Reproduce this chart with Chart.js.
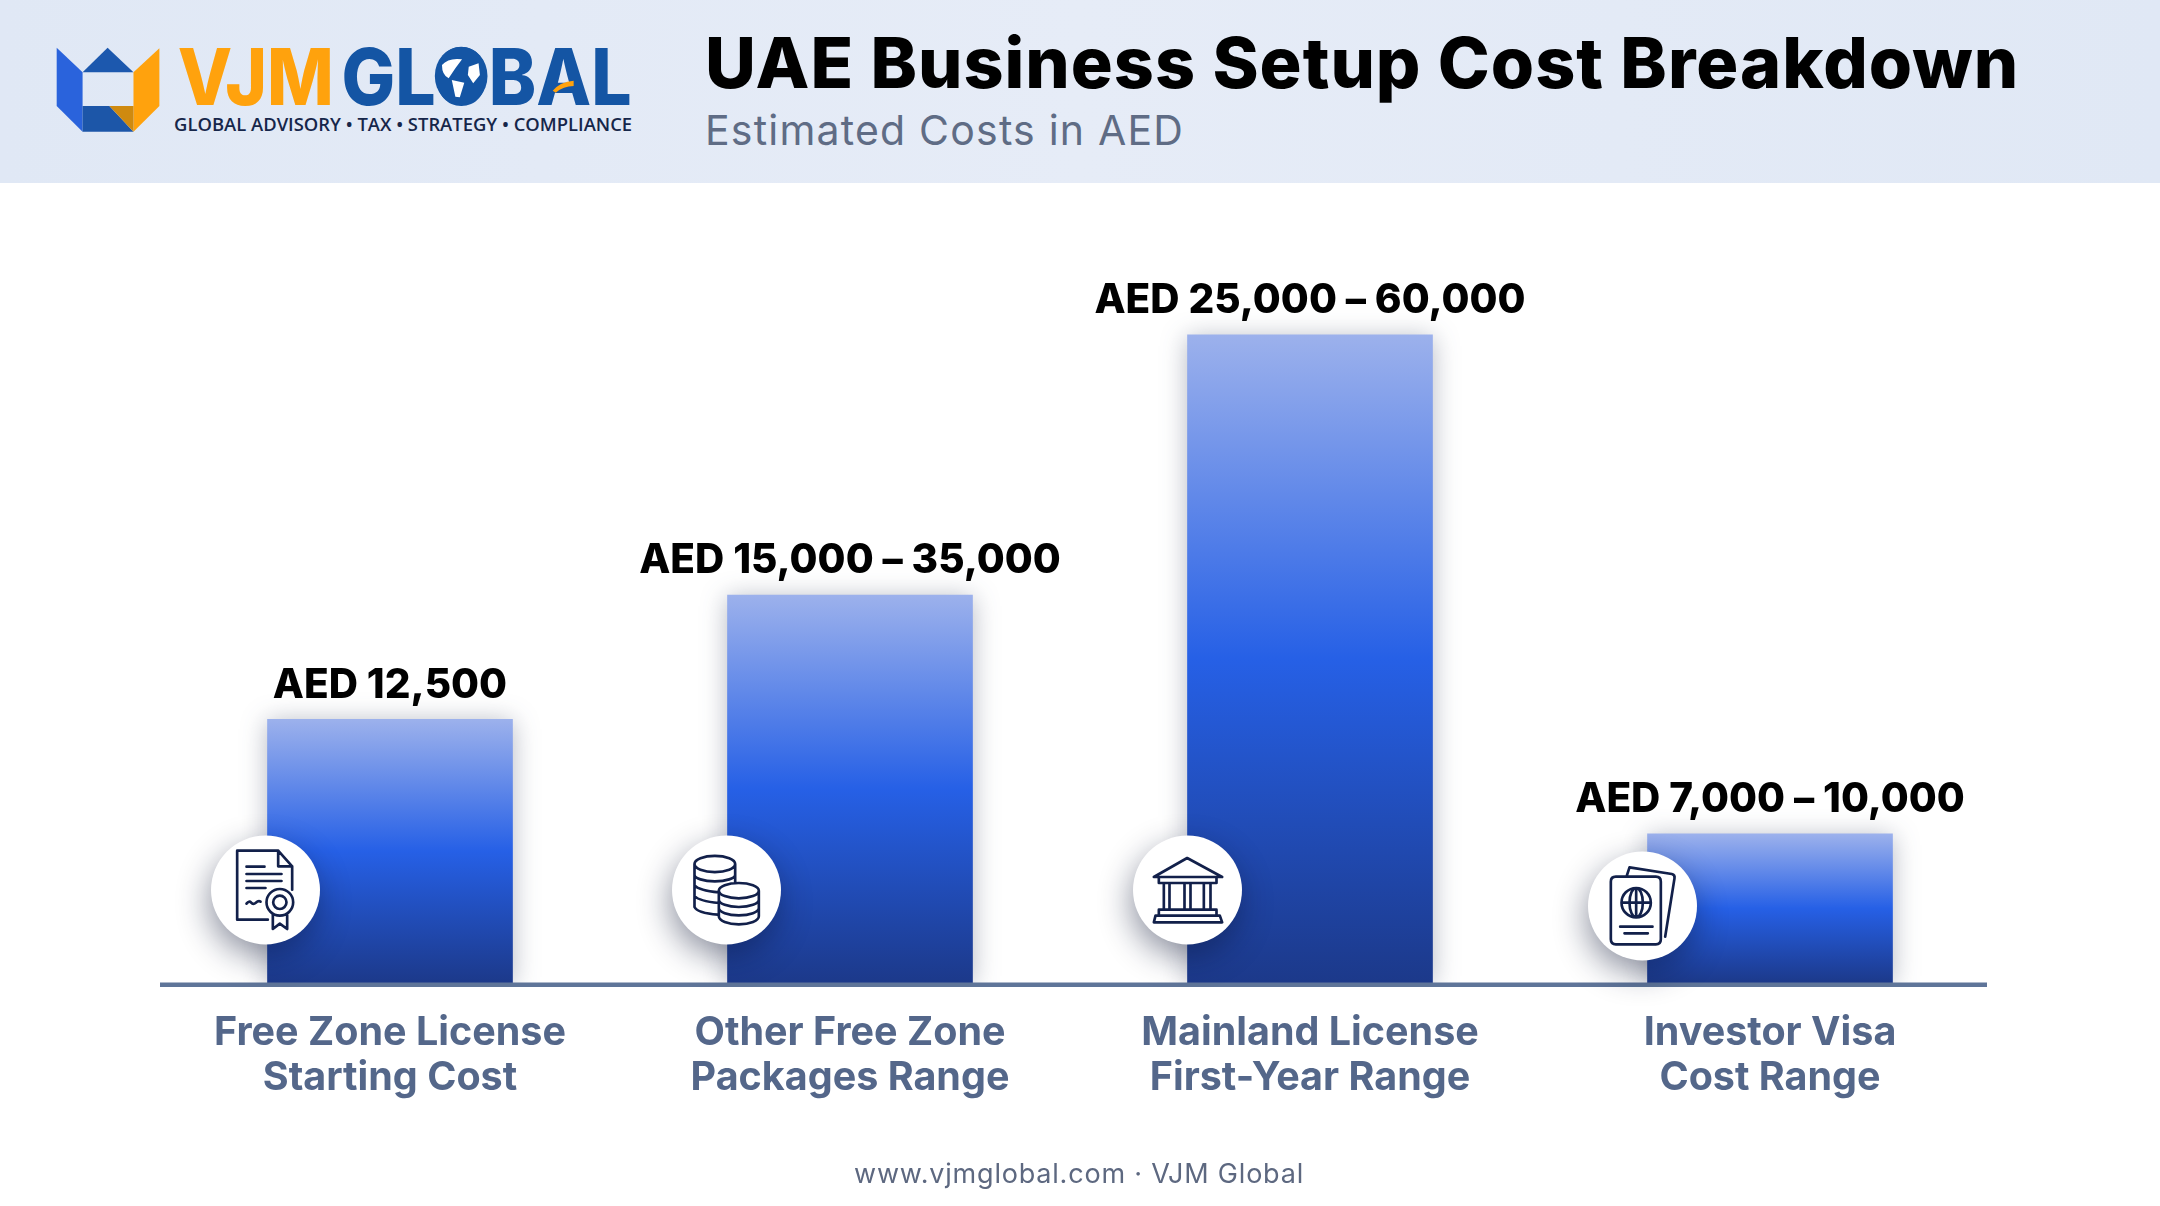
<!DOCTYPE html>
<html><head><meta charset="utf-8">
<style>
html,body{margin:0;padding:0;background:#fff;width:2160px;height:1206px;overflow:hidden}
#wrap{position:relative;width:2160px;height:1206px}
canvas{position:absolute;left:0;top:0}
#header{position:absolute;left:0;top:0;width:2160px;height:183px;background:linear-gradient(90deg,#e0e8f5,#e6ecf7 50%,#e0e8f5)}
#title{position:absolute;left:705px;top:20px;font:800 70px Inter,sans-serif;letter-spacing:1px;color:#000;white-space:nowrap}
#subtitle{position:absolute;left:705px;top:105px;font:400 41px Inter,sans-serif;letter-spacing:1.2px;color:#5f6c85;white-space:nowrap}
#logo{position:absolute;left:0;top:0}
#footer{position:absolute;left:0;width:2158px;top:1157px;text-align:center;font:400 27px Inter,sans-serif;letter-spacing:.8px;color:#5d6880}
</style></head><body>
<div id="wrap">
<canvas id="c" width="2160" height="1206"></canvas>
<div id="header">
<svg id="logo" width="700" height="182" viewBox="0 0 1568 546" preserveAspectRatio="none">
<polygon points="127,143 185,217 185,395 127,318" fill="#2a63dc"/>
<polygon points="185,217 241,143 299,217" fill="#1c58ae"/>
<polygon points="357,145 357,318 299,395 299,217" fill="#ffa20d"/>
<polygon points="185,318 245,318 299,395 185,395" fill="#1c56a8"/>
<polygon points="245,318 299,318 299,395" fill="#cf8a10"/>
<text x="398" y="314" font-family="Inter" font-weight="800" font-size="236" fill="#ffa20d" textLength="350" lengthAdjust="spacingAndGlyphs">VJM</text>
<text x="765" y="314" font-family="Inter" font-weight="800" font-size="236" fill="#1455a4" textLength="650" lengthAdjust="spacingAndGlyphs">GLOBAL</text>
<ellipse cx="1033" cy="228" rx="59" ry="88" fill="#1455a4"/>
<path d="M990 195Q1005 172 1035 178L1020 205L1005 235Q990 225 990 195ZM1012 240L1040 248L1030 292L1020 290ZM1050 200L1072 190L1075 225L1060 250L1048 225Z" fill="#fff"/>
<path d="M1238 272Q1255 245 1285 242L1285 258Q1262 258 1245 278Z" fill="#ffa20d"/>
<text x="390" y="394" font-family="'Open Sans'" font-weight="600" font-size="56" fill="#16264a" textLength="1026" lengthAdjust="spacingAndGlyphs">GLOBAL ADVISORY • TAX • STRATEGY • COMPLIANCE</text>
</svg>
<div id="title">UAE Business Setup Cost Breakdown</div>
<div id="subtitle">Estimated Costs in AED</div>
</div>
<div id="footer">www.vjmglobal.com · VJM Global</div>
</div>
<script src="https://cdn.jsdelivr.net/npm/chart.js@4"></script>
<script>
// Categories and printed labels
const categories = [
  ["Free Zone License", "Starting Cost"],
  ["Other Free Zone", "Packages Range"],
  ["Mainland License", "First-Year Range"],
  ["Investor Visa", "Cost Range"]
];
const valueLabels = ["AED 12,500", "AED 15,000 – 35,000", "AED 25,000 – 60,000", "AED 7,000 – 10,000"];
// Bar heights, scaled so the tallest bar equals its 60,000 upper bound.
// The reference draws its bars schematically, not in proportion to the printed amounts.
const barValues = [24400, 35900, 60000, 13800];
const axisMax = 64800;
const iconKinds = ["certificate", "coins", "bank", "passport"];

const ICONS = {
  certificate: {c:[255,751], d:"M262 840H170V633H293L335 680V750M293 633V680H335M198 681H252M198 703H303M198 724H303M198 745H255M198 792q8-10 14-3t14 0t14-3M277 825V868L298 852L320 868V825M338 788a40 40 0 1 1-80 0a40 40 0 1 1 80 0M318 788a20 20 0 1 1-40 0a20 20 0 1 1 40 0"},
  coins: {c:[258,211], d:"M162 133A60 24 0 0 1 284 133A60 24 0 0 1 162 133M162 133V262Q170 280 232 285M284 133V190M162 165A61 20 0 0 0 284 165M162 197Q175 212 235 218M162 229Q175 244 235 250M235 213A60 23 0 0 1 355 213A60 23 0 0 1 235 213M235 213V290A60 24 0 0 0 355 290V213M235 240A60 22 0 0 0 355 240M235 265A60 22 0 0 0 355 265"},
  bank: {c:[261,211], d:"M160 172L260 115L365 172ZM175 172V190H348V172M190 190V270M207 190V270M252 190V270M270 190V270M310 190V270M330 190V270M175 270H348V288H175ZM160 308L165 288H358L365 308Z"},
  passport: {c:[247,378], d:"M200 287L208 262L335 282Q345 284 343 295L315 470M167 290H287Q302 290 302 305V478Q302 493 287 493H167Q152 493 152 478V305Q152 290 167 290ZM272 368A44 44 0 1 1 184 368A44 44 0 1 1 272 368M184 368H272M228 324V412M248 368A20 44 0 1 1 208 368A20 44 0 1 1 248 368M180 440H277M193 460H263"}
};
// Centre of each icon badge relative to the bar's lower-left corner
const BADGE = [[-2,-93],[-1,-93],[0,-93],[-5,-77]];

const gradientFor = (ctx) => {
  const chart = ctx.chart, i = ctx.dataIndex;
  const y = chart.scales.y;
  if (!y || i === undefined) return '#2660e6';
  const top = y.getPixelForValue(barValues[i]), bot = y.getPixelForValue(0);
  if (!isFinite(top) || !isFinite(bot)) return '#2660e6';
  const g = chart.ctx.createLinearGradient(0, top, 0, bot);
  g.addColorStop(0, '#9cb1ec');
  g.addColorStop(0.5, '#2660e6');
  g.addColorStop(1, '#1c398a');
  return g;
};

const decor = {
  id: 'decor',
  beforeDatasetDraw(chart) {
    chart.ctx.save();
    chart.ctx.shadowColor = 'rgba(40,50,80,.34)';
    chart.ctx.shadowBlur = 24;
    chart.ctx.shadowOffsetY = 2;
  },
  afterDatasetDraw(chart) { chart.ctx.restore(); },
  afterDatasetsDraw(chart) {
    const ctx = chart.ctx, area = chart.chartArea;
    const bars = chart.getDatasetMeta(0).data;
    // baseline
    ctx.save();
    ctx.fillStyle = '#5f7599';
    ctx.fillRect(160, area.bottom - 0.5, 1827, 4.5);
    ctx.restore();
    bars.forEach((b, i) => {
      const left = b.x - b.width / 2;
      // value label
      ctx.save();
      ctx.font = '800 40.5px Inter, sans-serif';
      ctx.fillStyle = '#000';
      ctx.textAlign = 'center';
      ctx.textBaseline = 'middle';
      ctx.fillText(valueLabels[i], b.x, b.y - 34);
      ctx.restore();
      // icon badge
      const cx = left + BADGE[i][0], cy = b.base + BADGE[i][1];
      ctx.save();
      ctx.shadowColor = 'rgba(10,20,50,.45)';
      ctx.shadowBlur = 32;
      ctx.shadowOffsetX = -2;
      ctx.shadowOffsetY = 12;
      ctx.fillStyle = '#fff';
      ctx.beginPath(); ctx.arc(cx, cy, 54.5, 0, Math.PI * 2); ctx.fill();
      ctx.restore();
      const ic = ICONS[iconKinds[i]];
      ctx.save();
      ctx.translate(cx, cy); ctx.scale(1/3, 1/3); ctx.translate(-ic.c[0], -ic.c[1]);
      ctx.strokeStyle = '#12204a';
      ctx.lineWidth = 8;
      ctx.lineJoin = 'round';
      ctx.lineCap = 'round';
      ctx.stroke(new Path2D(ic.d));
      ctx.restore();
    });
  }
};

new Chart(document.getElementById('c'), {
  type: 'bar',
  data: { labels: categories, datasets: [{ data: barValues, backgroundColor: gradientFor, barThickness: 245, borderWidth: 0 }] },
  options: {
    responsive: false,
    animation: false,
    layout: { padding: { left: 160, right: 160, top: 283, bottom: 0 } },
    plugins: { legend: { display: false }, tooltip: { enabled: false } },
    scales: {
      y: { display: false, min: 0, max: axisMax },
      x: {
        offset: true,
        grid: { display: false },
        border: { display: false },
        afterFit(s) { s.height = 223; },
        ticks: { color: '#54678a', padding: 20, maxRotation: 0, autoSkip: false, font: { family: 'Inter, sans-serif', size: 39.5, weight: '700', lineHeight: 1.14 } }
      }
    }
  },
  plugins: [decor]
});
</script>
</body></html>
